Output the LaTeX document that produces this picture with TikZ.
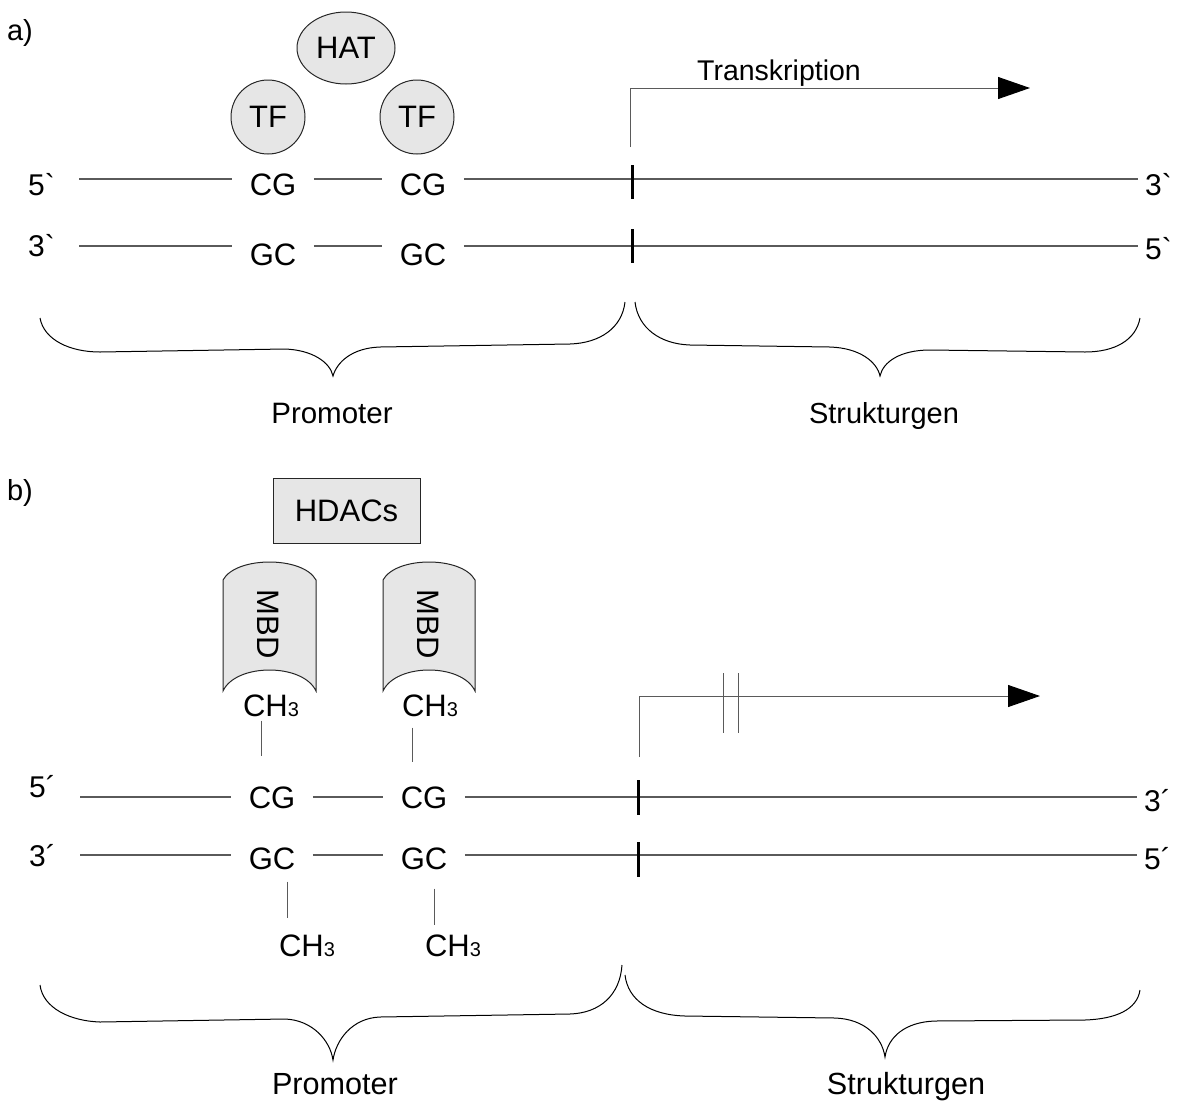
\documentclass[tikz,border=0pt]{standalone}
\usepackage{fontspec}
\newfontfamily\lib{Liberation Sans}
\usetikzlibrary{arrows.meta,shapes.geometric}
\definecolor{fillg}{RGB}{230,230,230}
\definecolor{lineg}{RGB}{90,90,90}
\newcommand\chthree{CH{\fontsize{20}{21}\selectfont 3}}
\begin{document}
\begin{tikzpicture}[x=1pt,y=-1pt,
  every node/.style={font=\lib\fontsize{29}{34}\selectfont, inner sep=0pt},
  txt/.style={anchor=base},
  big/.style={font=\lib\fontsize{31}{36}\selectfont},
  bp/.style={anchor=base, inner xsep=17.5pt, big},
  lend/.style={anchor=base east, inner xsep=24pt, font=\lib\fontsize{30}{34}\selectfont},
  rend/.style={anchor=base west, inner xsep=7pt, font=\lib\fontsize{30}{34}\selectfont},
  strand/.style={draw=lineg, line width=1.1pt},
  thinl/.style={draw=lineg, line width=1pt},
  tickm/.style={draw=black, line width=3pt},
  brace/.style={draw=black, line width=1pt},
  prot/.style={draw=black!85, fill=fillg, line width=1pt, big},
  tipa/.style={-{Triangle[length=32pt,width=22pt,color=black]}}]
\useasboundingbox (0,0) rectangle (1179,1104);

% ---------------- part a ----------------
\node[txt] (la) at (20,40) {a)};
\node[prot, ellipse, minimum width=98pt, minimum height=72pt] (hat) at (346,48) {HAT};
\node[prot, circle, minimum size=74pt] (tf1) at (268,117) {TF};
\node[prot, circle, minimum size=74pt] (tf2) at (417,117) {TF};

\coordinate (ya) at (0,179);
\coordinate (yb) at (0,246);
\node[lend] (a5l) at (79,195) {5`};
\node[lend] (a3l) at (79,256) {3`};
\node[bp] (acg1) at (273,195) {CG};
\node[bp] (acg2) at (423,195) {CG};
\node[bp] (agc1) at (273,265) {GC};
\node[bp] (agc2) at (423,265) {GC};
\node[rend] (a3r) at (1138,195) {3`};
\node[rend] (a5r) at (1138,259) {5`};

\draw[strand] (a5l.east |- ya) -- (acg1.west |- ya);
\draw[strand] (acg1.east |- ya) -- (acg2.west |- ya);
\draw[strand] (acg2.east |- ya) -- (a3r.west |- ya);
\draw[strand] (a3l.east |- yb) -- (agc1.west |- yb);
\draw[strand] (agc1.east |- yb) -- (agc2.west |- yb);
\draw[strand] (agc2.east |- yb) -- (a5r.west |- yb);

\draw[tickm] (632,165) -- (632,199);
\draw[tickm] (632,229) -- (632,263);

\coordinate (tssa) at (630,147);
\coordinate (enda) at (1030,88);
\draw[thinl, tipa] (tssa) |- (enda);
\node[txt, font=\lib\fontsize{28.5}{34}\selectfont] (trans) at (779,80) {Transkription};

\draw[brace] (40,318) .. controls (44,340) and (70,352) .. (100,352) -- (285,349)
  .. controls (312,350) and (330,362) .. (333,376)
  .. controls (337,362) and (352,348) .. (380,347) -- (570,344)
  .. controls (600,343) and (622,328) .. (625,302);
\draw[brace] (635,302) .. controls (638,328) and (660,344) .. (690,345) -- (830,347)
  .. controls (860,348) and (877,362) .. (880,376)
  .. controls (883,362) and (900,350) .. (930,350) -- (1085,352)
  .. controls (1115,352) and (1136,340) .. (1140,318);
\node[txt, font=\lib\fontsize{29.5}{34}\selectfont] (proma) at (332,423) {Promoter};
\node[txt, font=\lib\fontsize{29}{34}\selectfont] (struka) at (884,423) {Strukturgen};

% ---------------- part b ----------------
\node[txt] (lb) at (20,500) {b)};
\node[prot, rectangle, minimum width=147pt, minimum height=65pt] (hdac) at (346.5,510.5) {HDACs};

\path[prot] (223,691) -- (223,580) .. controls (236,556) and (303,556) .. (316,580)
  -- (316,691) .. controls (303,663) and (236,663) .. cycle;
\path[prot] (383,691) -- (383,580) .. controls (396,556) and (462,556) .. (475,580)
  -- (475,691) .. controls (462,663) and (396,663) .. cycle;
\node[big, rotate=-90] (mbd1) at (268,624) {MBD};
\node[big, rotate=-90] (mbd2) at (428,624) {MBD};

\node[txt, big] (chu1) at (271,716) {\chthree};
\node[txt, big] (chu2) at (430,716) {\chthree};

\coordinate (yc) at (0,797);
\coordinate (yd) at (0,855);
\node[lend] (b5l) at (80,797) {5´};
\node[lend] (b3l) at (80,866) {3´};
\node[bp] (bcg1) at (272,808) {CG};
\node[bp] (bcg2) at (424,808) {CG};
\node[bp] (bgc1) at (272,869) {GC};
\node[bp] (bgc2) at (424,869) {GC};
\node[rend] (b3r) at (1137,811) {3´};
\node[rend] (b5r) at (1137,869) {5´};

\draw[strand] (b5l.east |- yc) -- (bcg1.west |- yc);
\draw[strand] (bcg1.east |- yc) -- (bcg2.west |- yc);
\draw[strand] (bcg2.east |- yc) -- (b3r.west |- yc);
\draw[strand] (b3l.east |- yd) -- (bgc1.west |- yd);
\draw[strand] (bgc1.east |- yd) -- (bgc2.west |- yd);
\draw[strand] (bgc2.east |- yd) -- (b5r.west |- yd);

\node[txt, big] (chl1) at (307,956) {\chthree};
\node[txt, big] (chl2) at (453,956) {\chthree};

\coordinate (mx1) at (261,0);
\coordinate (mx2) at (412,0);
\coordinate (mx3) at (287,0);
\coordinate (mx4) at (434,0);
\draw[thinl, shorten <=4pt, shorten >=30pt] (chu1.south -| mx1) -- (bcg1.north -| mx1);
\draw[thinl, shorten <=11pt, shorten >=24pt] (chu2.south -| mx2) -- (bcg2.north -| mx2);
\draw[thinl, shorten <=12pt, shorten >=16pt] (bgc1.south -| mx3) -- (chl1.north -| mx3);
\draw[thinl, shorten <=19pt, shorten >=9pt] (bgc2.south -| mx4) -- (chl2.north -| mx4);

\draw[tickm] (638,780) -- (638,815);
\draw[tickm] (638,842) -- (638,877);

\coordinate (tssb) at (639,757);
\coordinate (endb) at (1040,696);
\draw[thinl, tipa] (tssb) |- (endb);
\draw[thinl] (723,673) -- (723,733);
\draw[thinl] (738,673) -- (738,733);

\draw[brace] (40,985) .. controls (43,1008) and (70,1021) .. (100,1022) -- (285,1019)
  .. controls (312,1020) and (330,1040) .. (333,1060)
  .. controls (336,1040) and (352,1018) .. (380,1017) -- (570,1014)
  .. controls (600,1013) and (620,995) .. (622,965);
\draw[brace] (625,975) .. controls (628,1000) and (650,1015) .. (685,1016) -- (835,1018)
  .. controls (865,1019) and (882,1037) .. (885,1057)
  .. controls (888,1037) and (905,1022) .. (935,1021) -- (1085,1020)
  .. controls (1115,1019) and (1137,1010) .. (1140,990);
\node[txt, font=\lib\fontsize{30.6}{36}\selectfont] (promb) at (335,1094) {Promoter};
\node[txt, font=\lib\fontsize{30.6}{36}\selectfont] (strukb) at (906,1094) {Strukturgen};
\end{tikzpicture}
\end{document}
